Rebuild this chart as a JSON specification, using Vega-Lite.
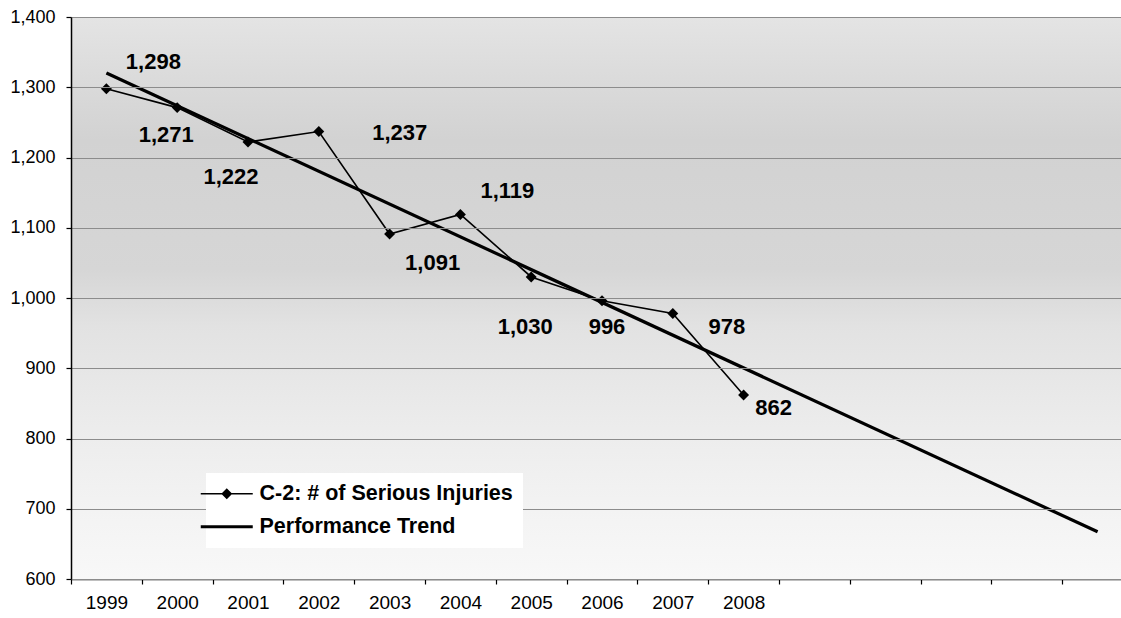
{
  "$schema": "https://vega.github.io/schema/vega-lite/v6.json",
  "width": 1050,
  "height": 562,
  "autosize": "none",
  "padding": {"left": 71, "top": 17, "right": 0, "bottom": 39},
  "background": "white",
  "data": {
    "values": [
      {"year": 1999, "value": 1298, "series": "C-2: # of Serious Injuries"},
      {"year": 2000, "value": 1271, "series": "C-2: # of Serious Injuries"},
      {"year": 2001, "value": 1222, "series": "C-2: # of Serious Injuries"},
      {"year": 2002, "value": 1237, "series": "C-2: # of Serious Injuries"},
      {"year": 2003, "value": 1091, "series": "C-2: # of Serious Injuries"},
      {"year": 2004, "value": 1119, "series": "C-2: # of Serious Injuries"},
      {"year": 2005, "value": 1030, "series": "C-2: # of Serious Injuries"},
      {"year": 2006, "value": 996, "series": "C-2: # of Serious Injuries"},
      {"year": 2007, "value": 978, "series": "C-2: # of Serious Injuries"},
      {"year": 2008, "value": 862, "series": "C-2: # of Serious Injuries"},
      {"year": 1999, "value": 1320.3, "series": "Performance Trend"},
      {"year": 2013, "value": 667.2, "series": "Performance Trend"}
    ]
  },
  "config": {
    "view": {"stroke": null},
    "numberFormat": ",",
    "axis": {
      "labelFont": "Liberation Sans",
      "labelColor": "black",
      "domainColor": "black",
      "domainWidth": 1.5,
      "tickColor": "black",
      "tickWidth": 1.2,
      "title": null
    },
    "axisY": {
      "grid": true,
      "gridColor": "#8c8c8c",
      "gridWidth": 1,
      "tickSize": 5,
      "labelPadding": 11,
      "labelFontSize": 18
    },
    "axisX": {
      "grid": false,
      "tickSize": 5,
      "labelPadding": 9,
      "labelFontSize": 19,
      "labelAngle": 0
    }
  },
  "layer": [
    {
      "data": {"values": [{}]},
      "mark": {
        "type": "rect",
        "color": {
          "gradient": "linear", "x1": 0, "y1": 0, "x2": 0, "y2": 1,
          "stops": [
            {"offset": 0, "color": "#e4e4e4"},
            {"offset": 0.12, "color": "#dadada"},
            {"offset": 0.22, "color": "#d2d2d2"},
            {"offset": 0.45, "color": "#d6d6d6"},
            {"offset": 0.55, "color": "#e2e2e2"},
            {"offset": 0.75, "color": "#ededed"},
            {"offset": 0.9, "color": "#f4f4f4"},
            {"offset": 1, "color": "#f8f8f8"}
          ]
        }
      },
      "encoding": {
        "y": {"datum": 1400, "type": "quantitative", "scale": {"domain": [600, 1400], "nice": false, "zero": false},
              "axis": {"values": [600, 700, 800, 900, 1000, 1100, 1200, 1300, 1400], "labelExpr": "format(datum.value, ',')", "grid": true, "zindex": 1, "title": null}},
        "y2": {"datum": 600}
      }
    },
    {
      "transform": [{"filter": "datum.series == 'Performance Trend'"}],
      "mark": {"type": "line", "color": "black", "strokeWidth": 3.2},
      "encoding": {
        "x": {"field": "year", "type": "ordinal", "bandPosition": 0.5,
              "scale": {"type": "band", "domain": [1999, 2000, 2001, 2002, 2003, 2004, 2005, 2006, 2007, 2008, 2009, 2010, 2011, 2012, 2013], "range": [0, 1062], "paddingInner": 0, "paddingOuter": 0},
              "axis": {"tickBand": "extent", "labelExpr": "datum.value <= 2008 ? datum.label : ''"}},
        "y": {"field": "value", "type": "quantitative", "scale": {"domain": [600, 1400], "nice": false, "zero": false}}
      }
    },
    {
      "transform": [{"filter": "datum.series != 'Performance Trend'"}],
      "mark": {"type": "line", "color": "black", "strokeWidth": 1.6},
      "encoding": {
        "x": {"field": "year", "type": "ordinal", "bandPosition": 0.5, "scale": {"type": "band"}},
        "y": {"field": "value", "type": "quantitative"}
      }
    },
    {
      "transform": [{"filter": "datum.series != 'Performance Trend'"}],
      "mark": {"type": "point", "shape": "diamond", "filled": true, "color": "black", "opacity": 1, "size": 120},
      "encoding": {
        "x": {"field": "year", "type": "ordinal", "bandPosition": 0.5, "scale": {"type": "band"}},
        "y": {"field": "value", "type": "quantitative"}
      }
    },
    {
      "mark": {"type": "point", "filled": true, "color": "black", "opacity": 0, "size": 400},
      "encoding": {
        "x": {"field": "year", "type": "ordinal", "bandPosition": 0.5, "scale": {"type": "band"}},
        "y": {"field": "value", "type": "quantitative"},
        "shape": {
          "field": "series", "type": "nominal",
          "scale": {
            "domain": ["C-2: # of Serious Injuries", "Performance Trend"],
            "range": ["M-2.6,-0.08H2.6V0.08H-2.6ZM0,-0.55L0.55,0L0,0.55L-0.55,0Z", "M-2.6,-0.16H2.6V0.16H-2.6Z"]
          },
          "legend": {
            "title": null, "orient": "none", "legendX": 135, "legendY": 456,
            "padding": 10, "fillColor": "white", "strokeColor": null, "zindex": 2,
            "symbolSize": 400, "symbolOpacity": 1, "symbolFillColor": "black", "symbolStrokeWidth": 0,
            "labelOffset": 22, "rowPadding": 10,
            "labelFont": "Liberation Sans", "labelFontSize": 21.5, "labelFontWeight": "bold", "labelColor": "black", "labelLimit": 0
          }
        }
      }
    },
    {"transform": [{"filter": "datum.series != 'Performance Trend' && datum.year == 1999"}], "mark": {"type": "text", "font": "Liberation Sans", "fontSize": 22, "fontWeight": "bold", "color": "black", "dx": 47, "dy": -27},
     "encoding": {"x": {"field": "year", "type": "ordinal", "bandPosition": 0.5, "scale": {"type": "band"}}, "y": {"field": "value", "type": "quantitative"}, "text": {"field": "value", "format": ","}}},
    {"transform": [{"filter": "datum.series != 'Performance Trend' && datum.year == 2000"}], "mark": {"type": "text", "font": "Liberation Sans", "fontSize": 22, "fontWeight": "bold", "color": "black", "dx": -11, "dy": 27},
     "encoding": {"x": {"field": "year", "type": "ordinal", "bandPosition": 0.5, "scale": {"type": "band"}}, "y": {"field": "value", "type": "quantitative"}, "text": {"field": "value", "format": ","}}},
    {"transform": [{"filter": "datum.series != 'Performance Trend' && datum.year == 2001"}], "mark": {"type": "text", "font": "Liberation Sans", "fontSize": 22, "fontWeight": "bold", "color": "black", "dx": -17, "dy": 35},
     "encoding": {"x": {"field": "year", "type": "ordinal", "bandPosition": 0.5, "scale": {"type": "band"}}, "y": {"field": "value", "type": "quantitative"}, "text": {"field": "value", "format": ","}}},
    {"transform": [{"filter": "datum.series != 'Performance Trend' && datum.year == 2002"}], "mark": {"type": "text", "font": "Liberation Sans", "fontSize": 22, "fontWeight": "bold", "color": "black", "dx": 81, "dy": 1},
     "encoding": {"x": {"field": "year", "type": "ordinal", "bandPosition": 0.5, "scale": {"type": "band"}}, "y": {"field": "value", "type": "quantitative"}, "text": {"field": "value", "format": ","}}},
    {"transform": [{"filter": "datum.series != 'Performance Trend' && datum.year == 2003"}], "mark": {"type": "text", "font": "Liberation Sans", "fontSize": 22, "fontWeight": "bold", "color": "black", "dx": 43, "dy": 29},
     "encoding": {"x": {"field": "year", "type": "ordinal", "bandPosition": 0.5, "scale": {"type": "band"}}, "y": {"field": "value", "type": "quantitative"}, "text": {"field": "value", "format": ","}}},
    {"transform": [{"filter": "datum.series != 'Performance Trend' && datum.year == 2004"}], "mark": {"type": "text", "font": "Liberation Sans", "fontSize": 22, "fontWeight": "bold", "color": "black", "dx": 47, "dy": -23},
     "encoding": {"x": {"field": "year", "type": "ordinal", "bandPosition": 0.5, "scale": {"type": "band"}}, "y": {"field": "value", "type": "quantitative"}, "text": {"field": "value", "format": ","}}},
    {"transform": [{"filter": "datum.series != 'Performance Trend' && datum.year == 2005"}], "mark": {"type": "text", "font": "Liberation Sans", "fontSize": 22, "fontWeight": "bold", "color": "black", "dx": -6, "dy": 50},
     "encoding": {"x": {"field": "year", "type": "ordinal", "bandPosition": 0.5, "scale": {"type": "band"}}, "y": {"field": "value", "type": "quantitative"}, "text": {"field": "value", "format": ","}}},
    {"transform": [{"filter": "datum.series != 'Performance Trend' && datum.year == 2006"}], "mark": {"type": "text", "font": "Liberation Sans", "fontSize": 22, "fontWeight": "bold", "color": "black", "dx": 5, "dy": 26},
     "encoding": {"x": {"field": "year", "type": "ordinal", "bandPosition": 0.5, "scale": {"type": "band"}}, "y": {"field": "value", "type": "quantitative"}, "text": {"field": "value", "format": ","}}},
    {"transform": [{"filter": "datum.series != 'Performance Trend' && datum.year == 2007"}], "mark": {"type": "text", "font": "Liberation Sans", "fontSize": 22, "fontWeight": "bold", "color": "black", "dx": 54, "dy": 14},
     "encoding": {"x": {"field": "year", "type": "ordinal", "bandPosition": 0.5, "scale": {"type": "band"}}, "y": {"field": "value", "type": "quantitative"}, "text": {"field": "value", "format": ","}}},
    {"transform": [{"filter": "datum.series != 'Performance Trend' && datum.year == 2008"}], "mark": {"type": "text", "font": "Liberation Sans", "fontSize": 22, "fontWeight": "bold", "color": "black", "dx": 30, "dy": 13},
     "encoding": {"x": {"field": "year", "type": "ordinal", "bandPosition": 0.5, "scale": {"type": "band"}}, "y": {"field": "value", "type": "quantitative"}, "text": {"field": "value", "format": ","}}}
  ]
}
